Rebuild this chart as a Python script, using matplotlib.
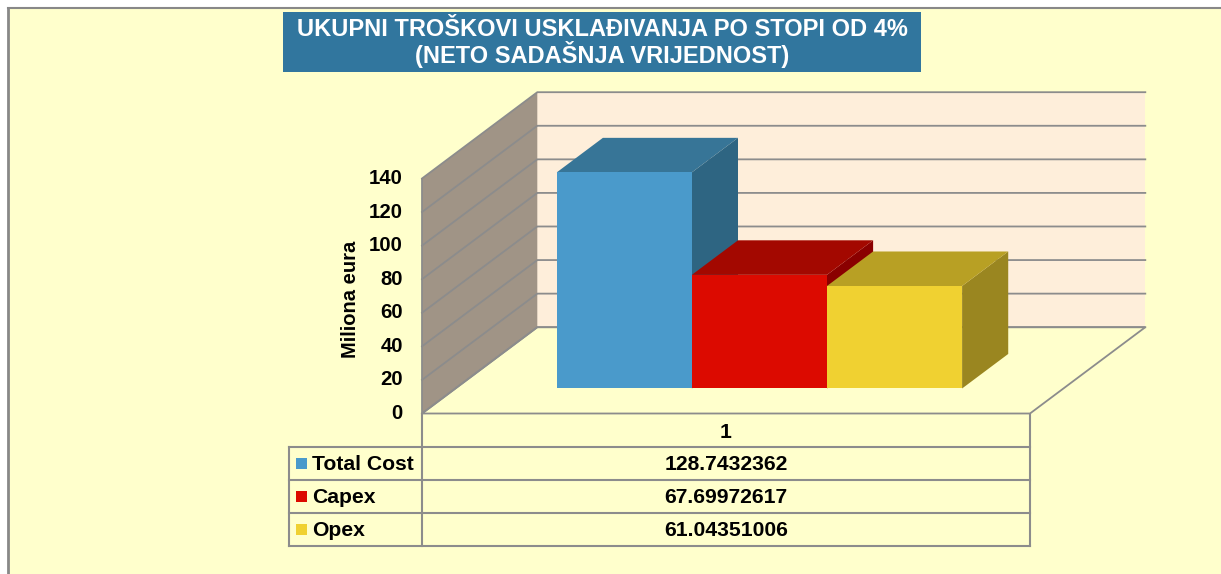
import numpy as np
import matplotlib
matplotlib.use("Agg")
from matplotlib import pyplot as plt
from matplotlib.patches import Polygon, Rectangle

# data
series = ["Total Cost", "Capex", "Opex"]
values = [128.7432362, 67.69972617, 61.04351006]
category = "1"
yticks = [0, 20, 40, 60, 80, 100, 120, 140]
title_lines = ["UKUPNI TROŠKOVI USKLAĐIVANJA PO STOPI OD 4%", "(NETO SADAŠNJA VRIJEDNOST)"]
ylabel = "Miliona eura"

front_cols = ["#4A9ACB", "#DC0A00", "#F0D131"]
top_cols = ["#377597", "#A30800", "#B8A024"]
side_cols = ["#2E6582", "#8A0000", "#9A8620"]

BG = "#FFFFCC"
GRID = "#8C8C8C"
plt.rcParams['font.family'] = ['Liberation Sans', 'DejaVu Sans']

# pseudo-3d box geometry (pixels)
X0, X1 = 422.0, 1030.0      # front edge of the floor
Y0 = 413.5                  # value 0 on front plane
YMAX = yticks[-1]
PX = (413.5 - 178.5) / YMAX  # px per unit
DX, DY = 115.3, -86.3       # full depth offset


def proj(u, v, d):
    return (X0 + u * (X1 - X0) + d * DX, Y0 - v * PX + d * DY)


fig = plt.figure(figsize=(12.21, 5.74), dpi=100)
fig.patch.set_facecolor("white")
ax = fig.add_axes([0, 0, 1, 1])
ax.set_xlim(0, 1221)
ax.set_ylim(574, 0)
ax.axis("off")

# outer frame
ax.add_patch(Rectangle((8, 8), 1221, 574, facecolor=BG, edgecolor="none", zorder=0))
ax.plot([8, 1221], [8, 8], color="#888888", lw=1.5, zorder=1)
ax.plot([8, 8], [8, 574], color="#888888", lw=2, zorder=1)

# title box
ax.add_patch(Rectangle((283, 12), 638, 60, facecolor="#31769E", edgecolor="none", zorder=2))
for k, line in enumerate(title_lines):
    ax.text(602, 29 + 25 * k, line, color="white", fontsize=17, fontweight="bold",
            ha="center", va="center", zorder=3)

# walls
back = [proj(0, 0, 1), proj(1, 0, 1), proj(1, YMAX, 1), proj(0, YMAX, 1)]
ax.add_patch(Polygon(back, closed=True, facecolor="#FEEEDA", edgecolor="none", zorder=2))
side = [proj(0, 0, 0), proj(0, 0, 1), proj(0, YMAX, 1), proj(0, YMAX, 0)]
ax.add_patch(Polygon(side, closed=True, facecolor="#A09486", edgecolor="none", zorder=2))
floor = [proj(0, 0, 0), proj(1, 0, 0), proj(1, 0, 1), proj(0, 0, 1)]
ax.add_patch(Polygon(floor, closed=True, facecolor=BG, edgecolor=GRID, lw=1.3, zorder=3))

for v in yticks:
    a, b, c = proj(0, v, 0), proj(0, v, 1), proj(1, v, 1)
    ax.plot([a[0], b[0], c[0]], [a[1], b[1], c[1]], color=GRID, lw=1.3, zorder=3)
    ax.text(403, a[1], str(v), fontsize=14.7, fontweight="bold", ha="right", va="center", zorder=4)
a, b = proj(0, 0, 0), proj(0, YMAX, 0)
ax.plot([a[0], b[0]], [a[1], b[1]], color=GRID, lw=1.3, zorder=3)

ax.text(350, 299, ylabel, fontsize=14.5, fontweight="bold", rotation=90,
        ha="center", va="center", zorder=4)

# bars
n = len(values)
w = 1.0 / (n + 1.5)
d0, d1 = 0.29, 0.69
for i, v in enumerate(values):
    ul = 0.75 * w + i * w
    ur = ul + w
    front = [proj(ul, 0, d0), proj(ur, 0, d0), proj(ur, v, d0), proj(ul, v, d0)]
    top = [proj(ul, v, d0), proj(ur, v, d0), proj(ur, v, d1), proj(ul, v, d1)]
    sd = [proj(ur, 0, d0), proj(ur, 0, d1), proj(ur, v, d1), proj(ur, v, d0)]
    ax.add_patch(Polygon(sd, closed=True, facecolor=side_cols[i], edgecolor="none", zorder=5 + i))
    ax.add_patch(Polygon(top, closed=True, facecolor=top_cols[i], edgecolor="none", zorder=5 + i))
    ax.add_patch(Polygon(front, closed=True, facecolor=front_cols[i], edgecolor="none", zorder=5 + i))

# data table
row_h = 33.0
ytab = 446.7
xl = 289
ax.plot([X0, X0], [Y0, ytab + n * row_h], color=GRID, lw=1.5, zorder=4)
ax.plot([X1, X1], [Y0, ytab + n * row_h], color=GRID, lw=1.5, zorder=4)
ax.plot([xl, xl], [ytab, ytab + n * row_h], color=GRID, lw=1.5, zorder=4)
for k in range(n + 1):
    ax.plot([xl, X1], [ytab + k * row_h, ytab + k * row_h], color=GRID, lw=1.5, zorder=4)
ax.text((X0 + X1) / 2, (Y0 + ytab) / 2 + 2, category, fontsize=15.2, fontweight="bold",
        ha="center", va="center", zorder=4)
for i, (s, v) in enumerate(zip(series, values)):
    yc = ytab + (i + 0.5) * row_h
    ax.add_patch(Rectangle((296, yc - 5), 10.5, 10.5, facecolor=front_cols[i], edgecolor="none", zorder=4))
    ax.text(312, yc + 1, s, fontsize=15.2, fontweight="bold", ha="left", va="center", zorder=4)
    ax.text((X0 + X1) / 2, yc + 1, f"{v:.10g}", fontsize=15.2, fontweight="bold",
            ha="center", va="center", zorder=4)

fig.savefig("out.png", dpi=100, facecolor=fig.get_facecolor())
